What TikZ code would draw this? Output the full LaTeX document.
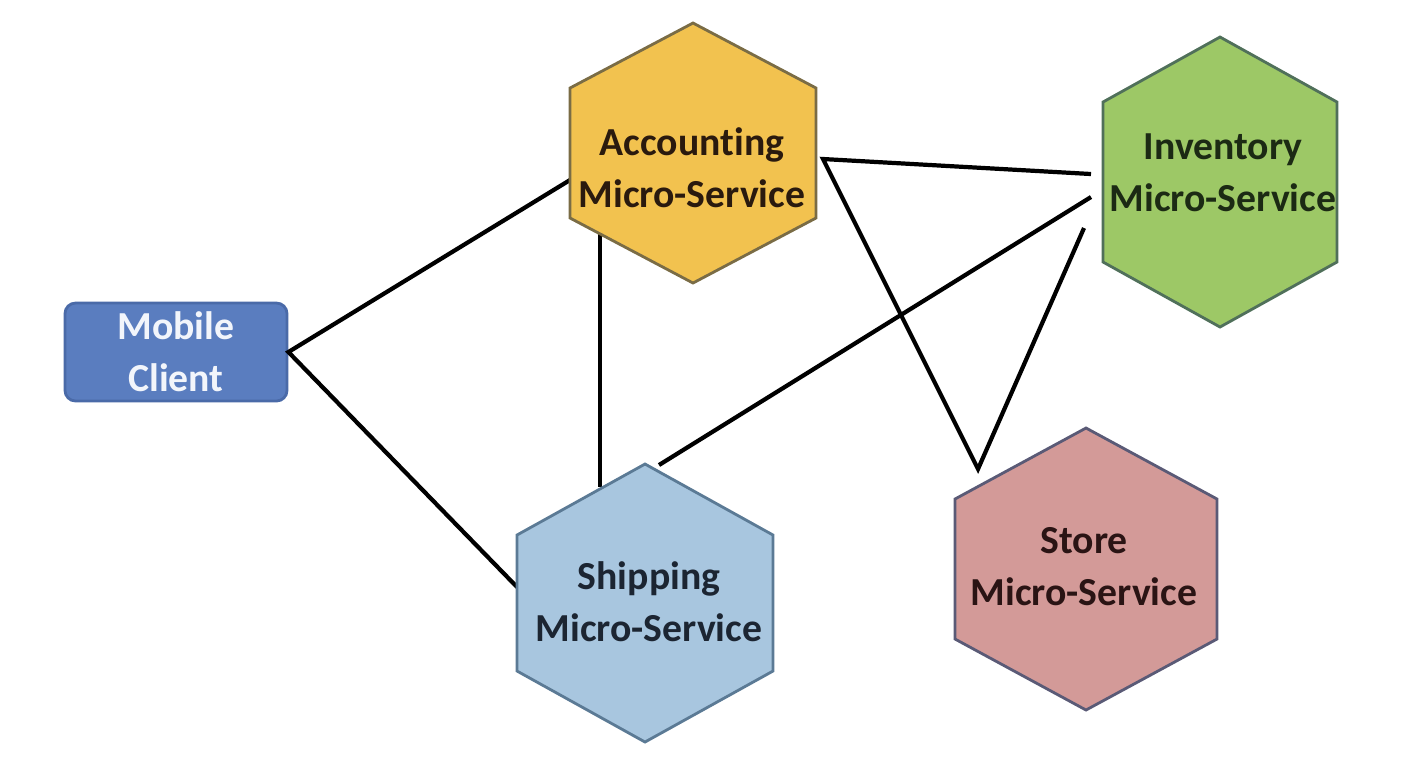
\documentclass[tikz,border=0pt]{standalone}
\usepackage{fontspec}
\setmainfont{Carlito}[Ligatures=NoCommon]
\usetikzlibrary{positioning, calc}

\definecolor{AccFill}{HTML}{F2C24F}
\definecolor{AccLine}{HTML}{7A6C45}
\definecolor{AccText}{HTML}{2A1A0E}
\definecolor{InvFill}{HTML}{9DC866}
\definecolor{InvLine}{HTML}{50705A}
\definecolor{InvText}{HTML}{1C2A14}
\definecolor{ShpFill}{HTML}{A8C6DF}
\definecolor{ShpLine}{HTML}{5B7A95}
\definecolor{ShpText}{HTML}{1C2532}
\definecolor{StoFill}{HTML}{D39A98}
\definecolor{StoLine}{HTML}{5A5A76}
\definecolor{StoText}{HTML}{2A1414}
\definecolor{MobFill}{HTML}{5A7DBF}
\definecolor{MobLine}{HTML}{4A6AA8}
\definecolor{MobText}{HTML}{F2F5FB}

\tikzset{
    hexlabel/.style={font=\bfseries\fontsize{11.3}{14.8}\selectfont, align=center, inner sep=0pt},
    link/.style={black, line width=1.2pt, line join=miter},
}

\begin{document}
\begin{tikzpicture}[x=0.1mm, y=-0.1mm]
    \useasboundingbox (0,0) rectangle (1420,760);

    % hexagon centres
    \coordinate (acc) at (693,153);
    \coordinate (inv) at (1220,182);
    \coordinate (shp) at (645,603);
    \coordinate (sto) at (1086,569);

    % client
    \node[hexlabel, draw=MobLine, fill=MobFill, text=MobText, line width=0.8pt,
          rounded corners=3pt, minimum width=22.2mm, minimum height=9.8mm]
        (mob) at (176,352) {Mobile\\Client};

    % link ends
    \coordinate (acc-w) at (570,180);
    \coordinate (acc-s) at (600,234);
    \coordinate (acc-e) at (823,159);
    \coordinate (inv-w1) at (1091,174);
    \coordinate (inv-w2) at (1091,197);
    \coordinate (inv-w3) at (1084,228);
    \coordinate (shp-w) at (517,587);
    \coordinate (shp-n) at (600,487);
    \coordinate (shp-ne) at (659,465);
    \coordinate (sto-n) at (978,469);

    % links
    \draw[link] (acc-w) -- (mob.east) -- (shp-w);
    \draw[link] (acc-s) -- (shp-n);
    \draw[link] (shp-ne) -- (inv-w2);
    \draw[link] (inv-w1) -- (acc-e) -- (sto-n) -- (inv-w3);

    % hexagons
    \foreach \hex/\hw/\hh/\hs/\fillc/\drawc in {
        acc/123/130/65/AccFill/AccLine,
        inv/117/145/80/InvFill/InvLine,
        shp/128/139/68/ShpFill/ShpLine,
        sto/131/141/70/StoFill/StoLine}
    {
        \draw[\drawc, fill=\fillc, line width=0.8pt]
            ($(\hex)+(0,-\hh)$) -- ($(\hex)+(\hw,-\hs)$) -- ($(\hex)+(\hw,\hs)$)
            -- ($(\hex)+(0,\hh)$) -- ($(\hex)+(-\hw,\hs)$) -- ($(\hex)+(-\hw,-\hs)$) -- cycle;
    }

    % labels
    \node[hexlabel, text=AccText] (acc-label) at (692,168) {Accounting\\Micro-Service};
    \node[hexlabel, text=InvText] (inv-label) at (1223,173) {Inventory\\Micro-Service};
    \node[hexlabel, text=ShpText] (shp-label) at (649,602) {Shipping\\Micro-Service};
    \node[hexlabel, text=StoText] (sto-label) at (1084,567) {Store\\Micro-Service};
\end{tikzpicture}
\end{document}
